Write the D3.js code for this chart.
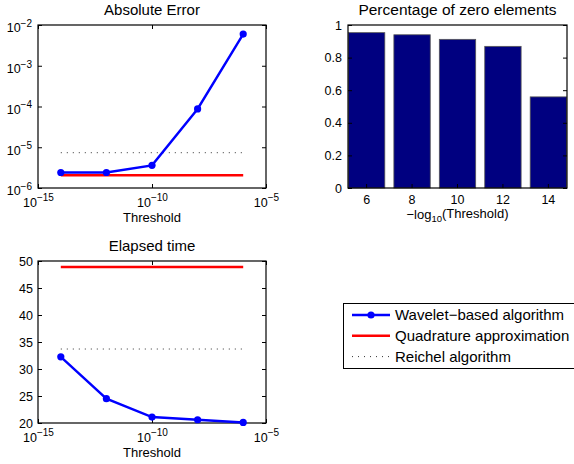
<!DOCTYPE html>
<html>
<head>
<meta charset="utf-8">
<script src="https://cdn.jsdelivr.net/npm/d3@7"></script>
<style>
body { margin: 0; background: #fff; }
svg { display: block; font-family: "Liberation Sans", Arial, sans-serif; }
</style>
</head>
<body>
<svg id="chart" width="574" height="464"></svg>
<script>
// data
const thresholds = [1e-14, 1e-12, 1e-10, 1e-8, 1e-6];
const waveletError = [2.4e-6, 2.4e-6, 3.6e-6, 8.7e-5, 6.0e-3];
const quadratureError = [2.05e-6, 2.05e-6, 2.05e-6, 2.05e-6, 2.05e-6];
const reichelError = [7.35e-6, 7.35e-6, 7.35e-6, 7.35e-6, 7.35e-6];

const waveletTime = [32.25, 24.5, 21.1, 20.6, 20.1];
const quadratureTime = [48.9, 48.9, 48.9, 48.9, 48.9];
const reichelTime = [33.7, 33.7, 33.7, 33.7, 33.7];

const barLabels = ["6", "8", "10", "12", "14"];
const zeroFraction = [0.953, 0.940, 0.912, 0.869, 0.559];

const errTicks = [1e-6, 1e-5, 1e-4, 1e-3, 1e-2];
const thrTicks = [1e-15, 1e-10, 1e-5];
const timeTicks = [20, 25, 30, 35, 40, 45, 50];
const fracTicks = [0, 0.2, 0.4, 0.6, 0.8, 1];

const legendNames = ["Wavelet\u2212based algorithm", "Quadrature approximation", "Reichel algorithm"];

const svg = d3.select("#chart");

//superscript labels like 10^-15
function pow10(sel) {
	sel.each(function(d) {
		const t = d3.select(this);
		const e = Math.round(Math.log10(d));
		t.text(null);
		t.append("tspan").text("10");
		t.append("tspan").attr("dy", "-0.55em").style("font-size", "10px").text("\u2212" + Math.abs(e));
	});
}

function frame(g, x0, y0, x1, y1) {
	g.append("rect")
		.attr("x", x0).attr("y", y0)
		.attr("width", x1 - x0).attr("height", y1 - y0)
		.attr("fill", "none").attr("stroke", "#000").attr("stroke-width", 1.2);
}

function styleAxis(a) {
	a.select(".domain").remove();
	a.selectAll("line").attr("stroke", "#000");
	a.selectAll("text").style("font-size", "12.5px").attr("fill", "#000");
}

function lineChart(opt) {
	const g = svg.append("g");
	const x = d3.scaleLog().domain([1e-15, 1e-5]).range([opt.left, opt.right]);
	const y = opt.y;

	//ticks inward, mirrored on top and right
	const ax = g.append("g").attr("transform", "translate(0," + opt.bottom + ")")
		.call(d3.axisBottom(x).tickValues(thrTicks).tickSizeInner(-4).tickSizeOuter(0).tickPadding(10));
	styleAxis(ax);
	ax.selectAll("text").call(pow10);
	const axT = g.append("g").attr("transform", "translate(0," + opt.top + ")")
		.call(d3.axisTop(x).tickValues(thrTicks).tickSizeInner(-4).tickSizeOuter(0).tickFormat(""));
	styleAxis(axT);

	const ay = g.append("g").attr("transform", "translate(" + opt.left + ",0)")
		.call(d3.axisLeft(y).tickValues(opt.yTicks).tickSizeInner(-4).tickSizeOuter(0).tickPadding(opt.yPad));
	styleAxis(ay);
	if (opt.logY) ay.selectAll("text").call(pow10).attr("dy", "0.55em");
	const ayR = g.append("g").attr("transform", "translate(" + opt.right + ",0)")
		.call(d3.axisRight(y).tickValues(opt.yTicks).tickSizeInner(-4).tickSizeOuter(0).tickFormat(""));
	styleAxis(ayR);

	frame(g, opt.left, opt.top, opt.right, opt.bottom);

	const line = d3.line().x((d, i) => x(thresholds[i])).y(d => y(d));

	g.append("path").datum(opt.reichel)
		.attr("d", line).attr("fill", "none")
		.attr("stroke", "#333").attr("stroke-width", 1).attr("stroke-dasharray", "1,5");
	g.append("path").datum(opt.quad)
		.attr("d", line).attr("fill", "none")
		.attr("stroke", "#ff0000").attr("stroke-width", 2.4);
	g.append("path").datum(opt.wavelet)
		.attr("d", line).attr("fill", "none")
		.attr("stroke", "#0000ff").attr("stroke-width", 2.4);
	g.selectAll("circle.pt").data(opt.wavelet).enter().append("circle")
		.attr("class", "pt")
		.attr("cx", (d, i) => x(thresholds[i]))
		.attr("cy", d => y(d))
		.attr("r", 3.6)
		.attr("fill", "#0000ff");

	g.append("text")
		.attr("x", (opt.left + opt.right) / 2).attr("y", opt.top - 10)
		.attr("text-anchor", "middle").style("font-size", "15px")
		.text(opt.title);
	g.append("text")
		.attr("x", (opt.left + opt.right) / 2).attr("y", opt.bottom + 34)
		.attr("text-anchor", "middle").style("font-size", "13px")
		.text("Threshold");
}

//Absolute Error
lineChart({
	left: 38, right: 266, top: 25, bottom: 188,
	y: d3.scaleLog().domain([1e-6, 1e-2]).range([188, 25]),
	yTicks: errTicks, logY: true, yPad: 6,
	wavelet: waveletError, quad: quadratureError, reichel: reichelError,
	title: "Absolute Error"
});

//Elapsed time
lineChart({
	left: 38, right: 266, top: 261, bottom: 423,
	y: d3.scaleLinear().domain([20, 50]).range([423, 261]),
	yTicks: timeTicks, logY: false, yPad: 5,
	wavelet: waveletTime, quad: quadratureTime, reichel: reichelTime,
	title: "Elapsed time"
});

//bar chart, percentage of zero elements
const bL = 348, bR = 567, bT = 25, bB = 188;
const gb = svg.append("g");
const xb = d3.scaleBand().domain(barLabels).range([bL, bR]).paddingInner(0.2).paddingOuter(0.01);
const yb = d3.scaleLinear().domain([0, 1]).range([bB, bT]);

gb.selectAll("rect.bar").data(zeroFraction).enter().append("rect")
	.attr("class", "bar")
	.attr("x", (d, i) => xb(barLabels[i]))
	.attr("y", d => yb(d))
	.attr("width", xb.bandwidth())
	.attr("height", d => yb(0) - yb(d))
	.attr("fill", "#000080")
	.attr("stroke", "#555")
	.attr("stroke-width", 0.8);

const bx = gb.append("g").attr("transform", "translate(0," + bB + ")")
	.call(d3.axisBottom(xb).tickSizeInner(-4).tickSizeOuter(0).tickPadding(7));
styleAxis(bx);
const by = gb.append("g").attr("transform", "translate(" + bL + ",0)")
	.call(d3.axisLeft(yb).tickValues(fracTicks).tickSizeInner(-4).tickSizeOuter(0).tickPadding(6)
		.tickFormat(d => d === 0 ? "0" : d === 1 ? "1" : d3.format(".1f")(d)));
styleAxis(by);
const byR = gb.append("g").attr("transform", "translate(" + bR + ",0)")
	.call(d3.axisRight(yb).tickValues(fracTicks).tickSizeInner(-4).tickSizeOuter(0).tickFormat(""));
styleAxis(byR);
frame(gb, bL, bT, bR, bB);

gb.append("text")
	.attr("x", (bL + bR) / 2).attr("y", bT - 10)
	.attr("text-anchor", "middle").style("font-size", "15.5px")
	.text("Percentage of zero elements");
const xl = gb.append("text")
	.attr("x", (bL + bR) / 2).attr("y", 219)
	.attr("text-anchor", "middle").style("font-size", "13px");
xl.append("tspan").text("\u2212log");
xl.append("tspan").attr("dy", "0.3em").style("font-size", "9.5px").text("10");
xl.append("tspan").attr("dy", "-0.3em").text("(Threshold)");

//legend
const lg = svg.append("g");
lg.append("rect")
	.attr("x", 343.5).attr("y", 303.5).attr("width", 245).attr("height", 65)
	.attr("fill", "#fff").attr("stroke", "#000").attr("stroke-width", 1);
const legendStyles = [
	{ color: "#0000ff", width: 2.4, dash: null, marker: true },
	{ color: "#ff0000", width: 2.4, dash: null, marker: false },
	{ color: "#333", width: 1, dash: "1,5", marker: false }
];
const rows = lg.selectAll("g.row").data(legendNames).enter().append("g")
	.attr("class", "row")
	.attr("transform", (d, i) => "translate(0," + (315 + i * 20.8) + ")");
rows.append("line")
	.attr("x1", 352).attr("x2", 390).attr("y1", 0).attr("y2", 0)
	.attr("stroke", (d, i) => legendStyles[i].color)
	.attr("stroke-width", (d, i) => legendStyles[i].width)
	.attr("stroke-dasharray", (d, i) => legendStyles[i].dash);
rows.filter((d, i) => legendStyles[i].marker).append("circle")
	.attr("cx", 371).attr("cy", 0).attr("r", 3.6).attr("fill", "#0000ff");
rows.append("text")
	.attr("x", 395).attr("y", 5)
	.style("font-size", "15px")
	.text(d => d);
</script>
</body>
</html>
